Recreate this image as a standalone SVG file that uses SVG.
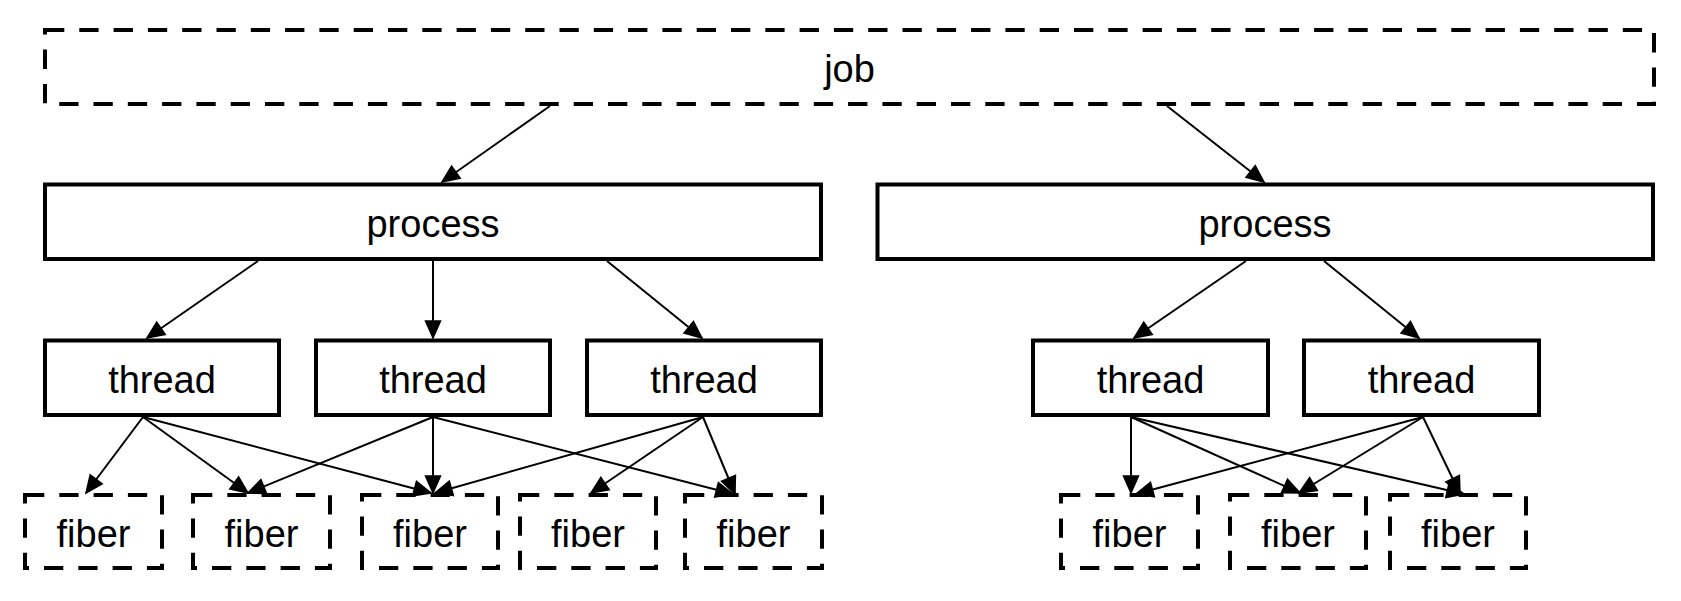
<svg xmlns="http://www.w3.org/2000/svg" width="1681" height="601" viewBox="0 0 1681 601">
<style>
.solid{fill:#fff;stroke:#000;stroke-width:4}
.dash{fill:#fff;stroke:#000;stroke-width:4;stroke-dasharray:19.3 15}
.lbl{font-family:"Liberation Sans",Arial,sans-serif;font-size:38px;fill:#000;text-anchor:middle}
.edge{stroke:#000;stroke-width:2;fill:none;marker-end:url(#arr)}
</style>
<defs>
<marker id="arr" markerUnits="userSpaceOnUse" markerWidth="26" markerHeight="26" refX="17" refY="7.5" orient="auto" overflow="visible">
<path d="M0,0 L17,7.5 L0,15 z" fill="#000" stroke="#000" stroke-width="1.5"/>
</marker>
</defs>
<rect width="1681" height="601" fill="#fff"/>
<g id="job"><rect class="dash" x="45" y="30" width="1609" height="74"/><text class="lbl" x="849.5" y="82">job</text></g>
<g id="processL"><rect class="solid" x="45" y="184.5" width="776" height="74.5"/><text class="lbl" x="433" y="237">process</text></g>
<g id="processR"><rect class="solid" x="877.5" y="184.5" width="775.5" height="74.5"/><text class="lbl" x="1265" y="237">process</text></g>
<g id="thread1"><rect class="solid" x="45" y="340.5" width="234" height="74.5"/><text class="lbl" x="162" y="393">thread</text></g>
<g id="thread2"><rect class="solid" x="316" y="340.5" width="234" height="74.5"/><text class="lbl" x="433" y="393">thread</text></g>
<g id="thread3"><rect class="solid" x="587" y="340.5" width="234" height="74.5"/><text class="lbl" x="704" y="393">thread</text></g>
<g id="thread4"><rect class="solid" x="1033" y="340.5" width="235" height="74.5"/><text class="lbl" x="1150.5" y="393">thread</text></g>
<g id="thread5"><rect class="solid" x="1304" y="340.5" width="235" height="74.5"/><text class="lbl" x="1421.5" y="393">thread</text></g>
<g id="fiber1"><rect class="dash" x="25" y="495" width="137" height="73"/><text class="lbl" x="93.5" y="547">fiber</text></g>
<g id="fiber2"><rect class="dash" x="193" y="495" width="137" height="73"/><text class="lbl" x="261.5" y="547">fiber</text></g>
<g id="fiber3"><rect class="dash" x="362" y="495" width="136" height="73"/><text class="lbl" x="430" y="547">fiber</text></g>
<g id="fiber4"><rect class="dash" x="520" y="495" width="136" height="73"/><text class="lbl" x="588" y="547">fiber</text></g>
<g id="fiber5"><rect class="dash" x="685" y="495" width="137" height="73"/><text class="lbl" x="753.5" y="547">fiber</text></g>
<g id="fiber6"><rect class="dash" x="1061" y="495" width="137" height="73"/><text class="lbl" x="1129.5" y="547">fiber</text></g>
<g id="fiber7"><rect class="dash" x="1230" y="495" width="136" height="73"/><text class="lbl" x="1298" y="547">fiber</text></g>
<g id="fiber8"><rect class="dash" x="1390" y="495" width="136" height="73"/><text class="lbl" x="1458" y="547">fiber</text></g>
<g id="connectors">
<line class="edge" x1="550" y1="106" x2="442" y2="182"/>
<line class="edge" x1="1167" y1="106" x2="1264" y2="182"/>
<line class="edge" x1="258" y1="261" x2="147" y2="338"/>
<line class="edge" x1="433" y1="261" x2="433" y2="338"/>
<line class="edge" x1="607" y1="261" x2="702" y2="338"/>
<line class="edge" x1="1246" y1="261" x2="1134" y2="338"/>
<line class="edge" x1="1324" y1="261" x2="1419" y2="338"/>
<line class="edge" x1="143" y1="417" x2="86" y2="493"/>
<line class="edge" x1="143" y1="417" x2="248" y2="493"/>
<line class="edge" x1="143" y1="417" x2="431" y2="493"/>
<line class="edge" x1="433" y1="417" x2="248" y2="493"/>
<line class="edge" x1="433" y1="417" x2="433" y2="493"/>
<line class="edge" x1="433" y1="417" x2="733" y2="494"/>
<line class="edge" x1="703" y1="417" x2="435" y2="493"/>
<line class="edge" x1="703" y1="417" x2="591" y2="493"/>
<line class="edge" x1="703" y1="417" x2="735" y2="494"/>
<line class="edge" x1="1131" y1="417" x2="1131" y2="493"/>
<line class="edge" x1="1131" y1="417" x2="1300" y2="493"/>
<line class="edge" x1="1131" y1="417" x2="1464" y2="494"/>
<line class="edge" x1="1423" y1="417" x2="1136" y2="494"/>
<line class="edge" x1="1423" y1="417" x2="1299" y2="493"/>
<line class="edge" x1="1423" y1="417" x2="1460" y2="494"/>
</g>
</svg>
